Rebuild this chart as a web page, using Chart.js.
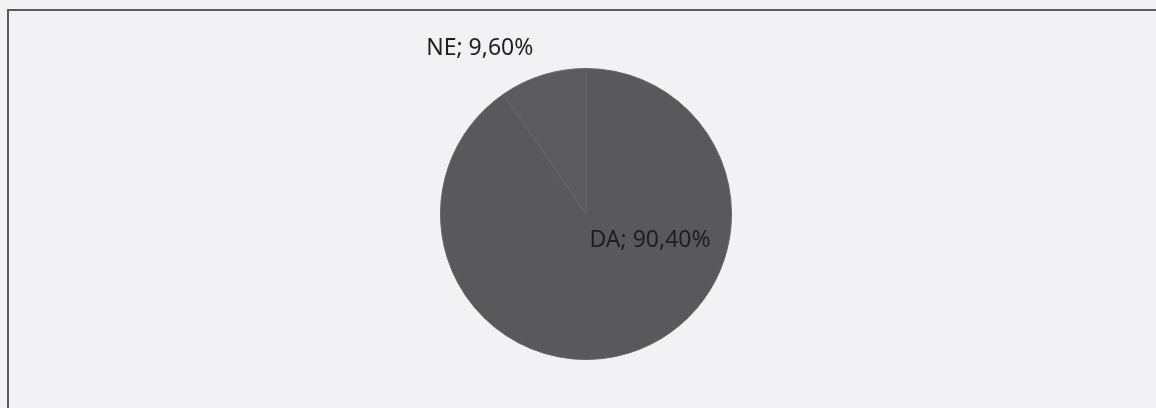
<!DOCTYPE html>
<html>
<head>
<meta charset="utf-8">
<script src="https://cdn.jsdelivr.net/npm/chart.js@4/dist/chart.umd.min.js"></script>
<style>
  html, body { margin: 0; padding: 0; background: #f2f1f4; }
  #wrap { position: relative; width: 1156px; height: 408px; overflow: hidden; }
  #frame {
    position: absolute; left: 7px; top: 9px; width: 1200px; height: 450px;
    border-left: 2px solid #5a5a5c; border-top: 2px solid #5a5a5c;
  }
  canvas { position: absolute; left: 0; top: 0; }
</style>
</head>
<body>
<div id="wrap">
  <div id="frame"></div>
  <canvas id="pie" width="1156" height="408"></canvas>
</div>
<script>
const labels = ['DA', 'NE']
const values = [90.4, 9.6]
const valueLabels = ['90,40%', '9,60%']

// label placement relative to pie centre, in units of radius
const labelOffsets = [[0.44, 0.18], [-0.73, -1.14]]

const pieLabels = {
  id: 'pieLabels',
  afterDatasetsDraw(chart) {
    const ctx = chart.ctx
    const meta = chart.getDatasetMeta(0)
    ctx.save()
    ctx.font = '23px "Noto Sans"'
    ctx.fillStyle = '#1f1f21'
    ctx.textAlign = 'center'
    ctx.textBaseline = 'middle'
    meta.data.forEach((arc, i) => {
      const r = arc.outerRadius
      const x = arc.x + labelOffsets[i][0] * r
      const y = arc.y + labelOffsets[i][1] * r
      ctx.fillText(labels[i] + '; ' + valueLabels[i], x, y)
    })
    ctx.restore()
  }
}

new Chart(document.getElementById('pie'), {
  type: 'pie',
  data: {
    labels: labels,
    datasets: [{
      data: values,
      backgroundColor: ['#59595c', '#5c5c5f'],
      borderColor: '#656568',
      borderWidth: 1
    }]
  },
  options: {
    responsive: false,
    animation: false,
    layout: { padding: { left: 440, right: 424, top: 68, bottom: 48 } },
    plugins: {
      legend: { display: false },
      tooltip: { enabled: false }
    }
  },
  plugins: [pieLabels]
})
</script>
</body>
</html>
